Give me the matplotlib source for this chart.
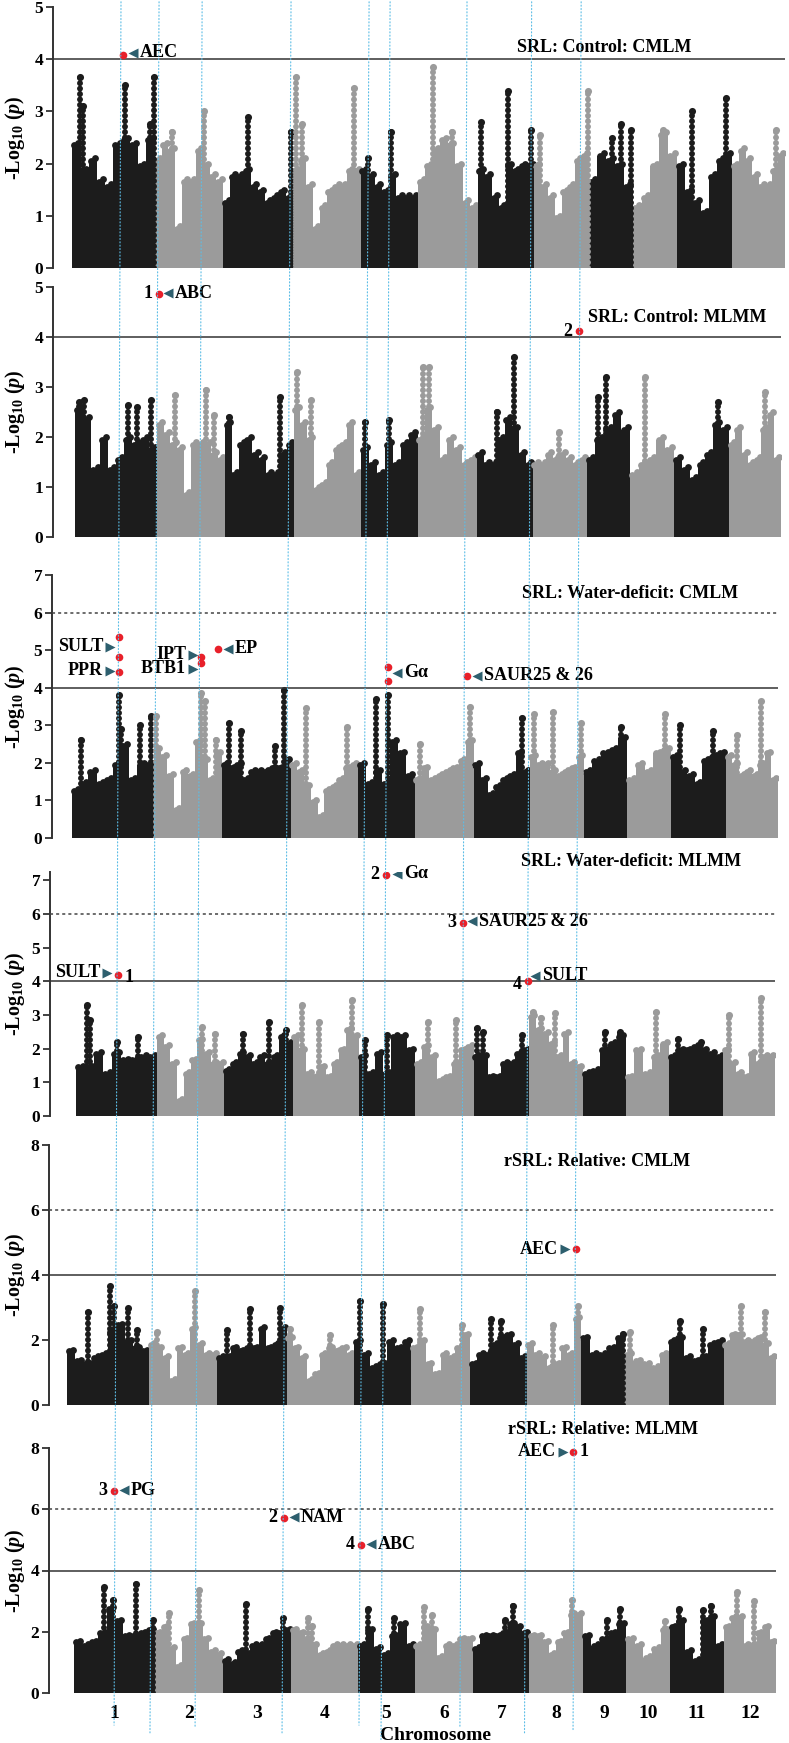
import matplotlib
matplotlib.use('Agg')
import matplotlib.pyplot as plt
import matplotlib.transforms as mtransforms
from matplotlib.patches import ConnectionPatch
import numpy as np

plt.rcParams['font.family'] = ['Liberation Serif', 'DejaVu Serif']
plt.rcParams['font.weight'] = 'bold'
plt.rcParams['mathtext.fontset'] = 'custom'
plt.rcParams['mathtext.rm'] = 'Liberation Serif:bold'
plt.rcParams['mathtext.it'] = 'Liberation Serif:italic:bold'
plt.rcParams['mathtext.bf'] = 'Liberation Serif:bold'

# rice chromosomes (Mb)
chrom_names = ['1', '2', '3', '4', '5', '6', '7', '8', '9', '10', '11', '12']
chrom_len = [43.27, 35.94, 36.41, 35.50, 29.96, 31.25, 29.70, 28.44, 23.01, 23.21, 29.02, 27.53]

titles = ['SRL: Control: CMLM', 'SRL: Control: MLMM', 'SRL: Water-deficit: CMLM',
          'SRL: Water-deficit: MLMM', 'rSRL: Relative: CMLM', 'rSRL: Relative: MLMM']
ymax = [5, 5, 7, 7.25, 8, 8]
yticks = [[0, 1, 2, 3, 4, 5], [0, 1, 2, 3, 4, 5], list(range(8)), list(range(8)),
          [0, 2, 4, 6, 8], [0, 2, 4, 6, 8]]
suggestive = [None, None, 6, 6, 6, 6]

# dense part of each chromosome (upper edge of the point cloud, -log10 p)
body_p1 = [[2.4, 1.9, 2.1, 1.7, 1.6, 2.4, 2.5, 2.4, 2.0, 2.5],
           [2.1, 2.4, 2.3, 0.8, 1.7, 1.7, 2.3, 2.0, 1.8, 1.7],
           [1.3, 1.8, 1.8, 1.9, 1.6, 1.5, 1.3, 1.4, 1.5, 1.4],
           [1.9, 2.1, 1.6, 0.8, 1.2, 1.5, 1.6, 1.6, 1.9, 1.9],
           [1.9, 1.8, 1.6, 1.5, 1.8, 1.4, 1.4, 1.4],
           [1.7, 2.0, 2.3, 2.5, 2.4, 2.0, 1.3, 1.2],
           [1.9, 1.8, 1.4, 1.2, 2.0, 1.9, 2.0, 2.0],
           [2.0, 1.6, 1.4, 1.0, 1.5, 1.6, 2.1, 2.2],
           [1.7, 2.2, 2.1, 2.0, 1.6],
           [1.2, 1.4, 2.0, 2.6, 2.2],
           [2.0, 1.5, 1.3, 1.1, 1.8, 2.1, 2.2],
           [2.0, 2.3, 2.1, 1.8, 1.6, 1.6, 1.9, 2.2]]
body_p2 = [[2.6, 2.4, 1.4, 2.0, 1.4, 1.6, 2.0, 1.9, 2.0, 1.8],
           [2.3, 2.1, 1.9, 1.8, 0.9, 1.9, 1.9, 1.9, 1.7, 1.6],
           [2.3, 1.3, 1.9, 2.0, 1.7, 1.6, 1.3, 1.3, 1.7, 1.9],
           [2.6, 2.3, 2.0, 1.0, 1.1, 1.5, 1.8, 1.9, 2.3, 1.3],
           [1.8, 1.5, 1.3, 1.9, 1.5, 1.9, 2.1],
           [2.0, 2.6, 2.2, 1.6, 2.0, 1.8, 1.5, 1.6],
           [1.7, 1.5, 1.5, 2.0, 2.4, 2.2, 1.7, 1.5],
           [1.5, 1.5, 1.7, 1.6, 1.7, 1.6, 1.5, 1.6],
           [1.6, 2.0, 2.2, 2.5, 2.2],
           [1.3, 1.5, 1.6, 2.0, 1.8],
           [1.6, 1.4, 1.2, 1.5, 1.7, 2.3, 2.2],
           [1.9, 2.2, 1.7, 1.5, 1.6, 2.2, 2.5, 1.6]]
body_p3 = [[1.3, 1.5, 1.8, 1.5, 1.6, 2.0, 2.5, 1.6, 2.0, 2.0],
           [2.4, 2.2, 1.7, 0.8, 1.8, 1.7, 2.6, 2.1, 1.6, 2.3],
           [2.0, 1.9, 2.0, 1.6, 1.8, 1.8, 1.8, 1.9, 1.9, 2.1],
           [2.0, 1.8, 1.4, 1.0, 0.6, 1.3, 1.4, 1.6, 1.9, 2.0],
           [2.0, 1.5, 1.8, 1.5, 2.6, 2.3, 1.7],
           [1.6, 1.9, 1.6, 1.7, 1.8, 1.9, 2.1, 2.6],
           [2.0, 1.6, 1.2, 1.4, 1.6, 1.7, 2.3, 1.8],
           [2.2, 2.0, 2.0, 1.8, 1.7, 1.8, 1.9, 2.2],
           [1.8, 2.1, 2.3, 2.4, 2.7],
           [1.6, 2.0, 1.8, 2.3, 2.4],
           [2.2, 1.8, 1.7, 1.5, 2.1, 2.2, 2.3],
           [2.2, 2.0, 1.7, 1.8, 1.7, 2.0, 2.3, 1.6]]
body_p4 = [[1.5, 1.5, 1.9, 1.3, 1.9, 1.7, 1.7, 1.8, 1.8],
           [2.4, 2.1, 1.6, 0.5, 1.3, 1.7, 2.3, 1.9, 1.6, 1.6],
           [1.4, 1.6, 1.9, 1.8, 1.6, 1.8, 1.6, 1.8, 2.4, 2.2],
           [2.4, 2.0, 1.3, 1.2, 1.5, 1.2, 1.6, 2.0, 2.6, 2.4],
           [1.8, 1.3, 1.9, 1.3, 2.4, 2.4, 2.0],
           [1.6, 2.1, 1.8, 1.1, 1.2, 1.6, 2.0, 2.1],
           [1.8, 1.8, 1.2, 1.2, 1.6, 1.6, 1.9, 2.0],
           [3.0, 2.6, 2.5, 2.2, 1.8, 2.5, 1.6, 1.5],
           [1.3, 1.4, 2.0, 2.2, 2.4],
           [1.2, 2.0, 1.3, 1.8, 2.2],
           [1.8, 2.0, 2.0, 2.1, 2.0, 1.9, 1.8],
           [2.0, 1.6, 1.3, 1.2, 1.9, 1.6, 1.8, 1.8]]
body_p5 = [[1.7, 1.4, 1.3, 1.5, 1.6, 2.3, 2.5, 2.0, 1.8, 1.7],
           [1.9, 1.8, 1.5, 0.8, 1.8, 1.6, 2.4, 1.9, 1.6, 1.6],
           [1.5, 1.5, 1.8, 1.7, 1.8, 1.8, 2.4, 1.8, 1.9, 2.4],
           [2.1, 1.8, 1.5, 0.8, 1.0, 1.6, 1.8, 1.7, 1.8, 1.6],
           [2.0, 1.6, 1.2, 1.3, 2.0, 1.8, 2.0],
           [1.8, 2.0, 1.3, 1.0, 1.6, 1.5, 1.8, 2.2],
           [1.3, 1.6, 1.6, 1.9, 2.1, 2.2, 1.9, 1.5],
           [1.9, 1.6, 1.5, 1.2, 1.3, 1.8, 1.6, 2.7],
           [2.1, 1.6, 1.6, 1.8, 2.1],
           [1.6, 1.4, 1.3, 1.2, 1.6],
           [2.0, 2.1, 1.5, 1.4, 1.5, 1.9, 2.0],
           [1.9, 2.2, 2.2, 2.0, 2.0, 2.1, 1.9, 1.5]]
body_p6 = [[1.7, 1.6, 1.7, 2.0, 2.8, 2.4, 1.9, 1.9, 2.0, 2.1],
           [2.0, 2.2, 1.5, 0.9, 1.8, 2.3, 2.3, 1.8, 1.4, 1.3],
           [1.1, 1.0, 1.4, 1.3, 1.6, 1.6, 1.8, 2.0, 2.0, 2.1],
           [2.1, 2.0, 1.8, 1.6, 1.3, 1.4, 1.6, 1.6, 1.6, 1.6],
           [1.6, 2.1, 1.5, 1.3, 1.9, 2.3, 1.6],
           [1.6, 2.2, 2.1, 1.2, 1.6, 1.6, 1.8, 1.8],
           [1.5, 1.9, 1.9, 1.9, 2.0, 2.3, 2.2, 2.0],
           [1.9, 1.9, 1.7, 1.3, 1.7, 2.0, 2.6, 2.6],
           [1.9, 1.6, 1.8, 2.0, 2.3],
           [1.8, 1.6, 1.2, 1.5, 2.1],
           [2.2, 2.4, 1.4, 1.1, 2.4, 2.5, 1.6],
           [2.2, 2.5, 2.5, 1.6, 1.6, 2.0, 2.2, 1.7]]

# sparse SNP columns above the dense part: (chromosome, Mb, top -log10 p)
peaks_p1 = [(1, 4, 3.65), (1, 5.5, 3.1), (1, 27.7, 3.5), (1, 41, 2.75), (1, 43, 3.65),
            (2, 9, 2.6), (2, 26, 3.0), (3, 13, 2.9), (3, 35.5, 2.6), (4, 1.6, 3.65),
            (4, 5, 2.75), (4, 32, 3.45), (5, 4, 2.1), (5, 15.7, 2.6), (6, 7.7, 3.85),
            (6, 18, 2.6), (7, 1.6, 2.8), (7, 15.7, 3.4), (7, 28, 2.65), (8, 3, 2.55),
            (8, 28, 3.4), (9, 12, 2.5), (9, 17, 2.75), (9, 22, 2.65), (10, 16, 2.65),
            (11, 8, 3.0), (11, 25.5, 3.25), (12, 22.6, 2.65)]
peaks_p2 = [(1, 2, 2.7), (1, 5, 2.75), (1, 27.8, 2.65), (1, 33, 2.6), (1, 40, 2.75),
            (2, 9.6, 2.85), (2, 26, 2.95), (2, 30, 2.45), (3, 2, 2.4), (3, 29, 2.8),
            (4, 2, 3.3), (4, 9, 2.75), (5, 2, 2.3), (5, 15, 2.35), (6, 3, 3.4), (6, 6, 3.4),
            (7, 11, 2.5), (7, 20, 3.6), (8, 14, 2.1), (9, 6, 2.8), (9, 10, 3.2),
            (10, 8, 3.2), (11, 23, 2.7), (12, 19, 2.9)]
peaks_p3 = [(1, 5, 2.6), (1, 24.8, 3.8), (1, 26, 2.9), (1, 36, 3.0), (1, 42, 3.25),
            (2, 1, 3.25), (2, 25, 3.85), (2, 27, 3.65), (2, 33, 2.6), (3, 4, 3.05),
            (3, 10, 2.85), (3, 28, 2.45), (3, 33, 3.95), (4, 8, 3.45), (4, 30, 2.95),
            (5, 9.4, 3.7), (5, 15.9, 3.8), (6, 3, 2.5), (6, 29.2, 3.5), (7, 25.4, 3.2),
            (8, 2, 3.3), (8, 12, 3.35), (8, 27, 3.05), (9, 20, 2.95), (10, 20, 3.3),
            (11, 5, 3.0), (11, 22, 2.85), (12, 6, 2.75), (12, 18.4, 3.65)]
peaks_p4 = [(1, 5.7, 3.3), (1, 7.5, 2.85), (1, 22, 2.2), (1, 33, 2.35), (2, 24, 2.65),
            (2, 31, 2.45), (3, 10, 2.45), (3, 24, 2.8), (3, 33, 2.55), (4, 5, 3.3),
            (4, 14, 2.8), (4, 32, 3.45), (5, 3, 2.25), (5, 15, 2.4), (6, 7, 2.8),
            (6, 22, 2.85), (7, 2, 2.6), (7, 5, 2.5), (7, 26, 2.4), (8, 2, 3.1), (8, 6, 2.9),
            (8, 14, 3.05), (9, 12, 2.5), (9, 20, 2.5), (10, 16, 3.1), (11, 5, 2.3),
            (11, 17, 2.2), (12, 3, 3.0), (12, 20, 3.5)]
peaks_p5 = [(1, 11, 2.85), (1, 22.6, 3.65), (1, 25, 3.05), (1, 32, 3.0), (1, 37, 2.3),
            (2, 4, 2.25), (2, 24, 3.5), (3, 5, 2.3), (3, 17, 2.95), (3, 33, 3.0),
            (4, 2, 2.35), (4, 23, 2.15), (5, 3.3, 3.2), (5, 15, 3.1), (6, 5, 2.95),
            (6, 27, 2.45), (7, 11, 2.65), (7, 16, 2.6), (8, 14, 2.45), (8, 27, 3.05),
            (9, 22, 2.2), (10, 3, 2.25), (11, 6, 2.6), (11, 18, 2.35), (12, 9, 3.05),
            (12, 22, 2.85)]
peaks_p6 = [(1, 16, 3.45), (1, 21, 3.05), (1, 33, 3.55), (1, 42, 2.4), (2, 7, 2.6),
            (2, 23, 3.35), (3, 12, 2.9), (3, 32, 2.45), (4, 9, 2.45), (4, 11, 2.2),
            (5, 5, 2.75), (5, 19, 2.45), (6, 5, 2.8), (6, 9, 2.55), (7, 17, 2.4),
            (7, 21, 2.85), (8, 23, 3.05), (9, 13, 2.4), (9, 20, 2.75), (10, 21, 2.35),
            (11, 5, 2.75), (11, 18, 2.7), (11, 22, 2.85), (12, 7, 3.3), (12, 16, 3.0)]

# significant SNPs: (chromosome, Mb, -log10 p, rank label, side of label)
hits_p1 = [(1, 26.7, 4.08, '', '')]
hits_p2 = [(2, 1.1, 4.86, '1', 'l'), (8, 24.5, 4.12, '2', 'l')]
hits_p3 = [(1, 24.8, 5.36, '', ''), (1, 24.8, 4.83, '', ''), (1, 24.8, 4.43, '', ''),
           (2, 24.9, 4.83, '', ''), (2, 24.9, 4.67, '', ''), (2, 33.9, 5.04, '', ''),
           (5, 15.9, 4.56, '', ''), (5, 15.9, 4.19, '', ''), (6, 27.7, 4.32, '', '')]
hits_p4 = [(1, 22.4, 4.2, '1', 'r'), (5, 14.4, 7.17, '2', 'l'), (6, 25.5, 5.74, '3', 'l'),
           (7, 29.0, 4.0, '4', 'l')]
hits_p5 = [(8, 25.9, 4.8, '', '')]
hits_p6 = [(1, 21.3, 6.6, '3', 'l'), (3, 32.4, 5.72, '2', 'l'), (5, 1.5, 4.84, '4', 'l'),
           (8, 23.3, 7.88, '1', 'r')]

# candidate genes: (chromosome, Mb of pointer, -log10 p, gene, pointer direction)
genes_p1 = [(1, 31.9, 4.12, 'AEC', '<')]
genes_p2 = [(2, 5.9, 4.88, 'ABC', '<')]
genes_p3 = [(1, 20.1, 5.09, 'SULT', '>'), (1, 20.1, 4.45, 'PPR', '>'),
            (2, 20.7, 4.88, 'IPT', '>'), (2, 20.7, 4.5, 'BTB1', '>'),
            (2, 39.2, 5.04, 'EP', '<'), (5, 20.7, 4.4, 'G\u03b1', '<'),
            (6, 33.0, 4.32, 'SAUR25 & 26', '<')]
genes_p4 = [(1, 16.6, 4.25, 'SULT', '>'), (5, 20.3, 7.2, 'G\u03b1', '<'),
            (6, 30.3, 5.78, 'SAUR25 & 26', '<'), (7, 32.8, 4.17, 'SULT', '<')]
genes_p5 = [(8, 20.1, 4.8, 'AEC', '>')]
genes_p6 = [(1, 26.6, 6.62, 'PG', '<'), (3, 37.8, 5.74, 'NAM', '<'),
            (5, 6.8, 4.86, 'ABC', '<'), (8, 17.9, 7.88, 'AEC', '>')]

# dotted guide lines: position in top panel and in bottom panel (chromosome, Mb)
guide_top = [(1, 25.65), (2, 2.3), (2, 24.85), (3, 35.45), (5, 4.4), (5, 15.4),
             (6, 25.7), (7, 28.3), (8, 24.5)]
guide_bottom = [(1, 21.3), (1, 40.4), (2, 21.1), (3, 31.4), (5, 0.4), (5, 12.1),
                (6, 24.1), (7, 27.2), (8, 23.3)]
guide_end = [-1.05, -1.3, -1.15, -1.3, -1.05, -1.55, -1.15, -1.3, -1.2]

bodies = [body_p1, body_p2, body_p3, body_p4, body_p5, body_p6]
peaks = [peaks_p1, peaks_p2, peaks_p3, peaks_p4, peaks_p5, peaks_p6]
hits = [hits_p1, hits_p2, hits_p3, hits_p4, hits_p5, hits_p6]
genes = [genes_p1, genes_p2, genes_p3, genes_p4, genes_p5, genes_p6]

offset = np.concatenate([[0], np.cumsum(chrom_len)[:-1]])
genome = float(np.sum(chrom_len))


def gpos(c, mb):
    return offset[c - 1] + mb


W, H = 789, 1743
# pixel layout of each panel: spine x, first SNP x, last SNP x, y of 0, y of top
boxes = [(53, 72, 785, 268, 7), (53, 75, 781, 537, 287), (52, 72, 778, 838, 575),
         (50, 76, 775, 1116, 872), (49, 67, 776, 1405, 1145), (49, 74, 776, 1693, 1448)]
title_xy = [(604, 47), (677, 318), (630, 593), (631, 862), (597, 1162), (603, 1430)]

dark = '#1c1c1c'
grey = '#9b9b9b'
red = '#e8202a'
teal = '#2d5f6e'
cyan = '#5cbde6'

fig = plt.figure(figsize=(W / 100, H / 100), dpi=100)
axes = []
for i in range(6):
    sx, x0, x1, y0, yt = boxes[i]
    k = (x1 - x0) / genome
    ax = fig.add_axes([sx / W, 1 - y0 / H, (x1 - sx) / W, (y0 - yt) / H])
    ax.set_xlim(-(x0 - sx) / k, genome)
    ax.set_ylim(0, ymax[i])
    for s in ['top', 'right', 'bottom']:
        ax.spines[s].set_visible(False)
    ax.spines['left'].set_linewidth(1.4)
    ax.spines['left'].set_color('#333333')
    ax.set_xticks([])
    ax.set_yticks(yticks[i])
    ax.tick_params(axis='y', direction='out', length=5, width=1.3, color='#333333',
                   labelsize=12.5, pad=2)
    for lab in ax.get_yticklabels():
        lab.set_fontweight('bold')

    for c in range(12):
        col = dark if c % 2 == 0 else grey
        b = np.array(bodies[i][c])
        w = chrom_len[c] / len(b)
        xs = offset[c] + w * (np.arange(len(b)) + 0.5)
        ax.bar(xs, b - 0.05, width=w, color=col, linewidth=0, zorder=2)
        ax.scatter(xs - w * 0.25, b - 0.05, s=24, color=col, linewidths=0, zorder=2)
        ax.scatter(xs + w * 0.25, b, s=24, color=col, linewidths=0, zorder=2)
    for c, mb, v in peaks[i]:
        col = dark if (c - 1) % 2 == 0 else grey
        # stacked SNP dots
        ax.vlines(gpos(c, mb), 0, v, color=col, lw=4.3, zorder=2, capstyle='round',
                  linestyles=[(0, (0.01, 0.9))])
        ax.scatter([gpos(c, mb)], [v], s=26, color=col, linewidths=0, zorder=2)

    ax.axhline(4, color='#333333', lw=1.1, zorder=3)
    if suggestive[i] is not None:
        ax.axhline(suggestive[i], color='#444444', lw=1.1, ls=(0, (2, 2)), zorder=3)

    for c, mb, v, num, side in hits[i]:
        ax.plot(gpos(c, mb), v, 'o', color=red, ms=5.5, mec='none', zorder=6)
        if num:
            dx = -8 if side == 'l' else 8
            dy = 0 if i != 3 or num in ('2', '3') else -2
            ax.annotate(num, (gpos(c, mb), v), xytext=(dx, dy), textcoords='offset points',
                        ha='center', va='center', fontsize=13, fontweight='bold', zorder=6)
    for c, mb, v, name, d in genes[i]:
        ax.plot(gpos(c, mb), v, d, color=teal, ms=6.5, mec='none', zorder=6)
        dx, ha = (5, 'left') if d == '<' else (-5, 'right')
        ax.annotate(name, (gpos(c, mb), v), xytext=(dx, 0), textcoords='offset points',
                    ha=ha, va='center', fontsize=13, fontweight='bold', zorder=6)

    ax.set_ylabel(r'-Log$_{10}$ ($p$)', fontsize=14.5, fontweight='bold')
    ax.yaxis.label.set_verticalalignment('center')
    ax.yaxis.set_label_coords((15 - sx) / (x1 - sx), 0.5)
    tx, ty = title_xy[i]
    fig.text(tx / W, 1 - ty / H, titles[i], ha='center', va='center', fontsize=13,
             fontweight='bold')
    axes.append(ax)

# chromosome numbers under the last panel
ax6 = axes[-1]
trans = mtransforms.blended_transform_factory(ax6.transData, ax6.transAxes)
centers = offset + np.array(chrom_len) / 2
for cx, name in zip(centers, chrom_names):
    ax6.text(cx, -0.085, name, transform=trans, ha='center', va='center', fontsize=14,
             fontweight='bold')
fig.text(435 / W, 1 - 1735 / H, 'Chromosome', ha='center', va='center', fontsize=14,
         fontweight='bold')

# dotted guide lines linking the loci across panels
for (ct, mt), (cb, mbb), yb in zip(guide_top, guide_bottom, guide_end):
    con = ConnectionPatch(xyA=(gpos(ct, mt), 5.1), coordsA=axes[0].transData,
                          xyB=(gpos(cb, mbb), yb), coordsB=ax6.transData,
                          color=cyan, lw=0.8, ls=(0, (1, 2)), zorder=10)
    fig.add_artist(con)

fig.savefig('out.png', dpi=100)
